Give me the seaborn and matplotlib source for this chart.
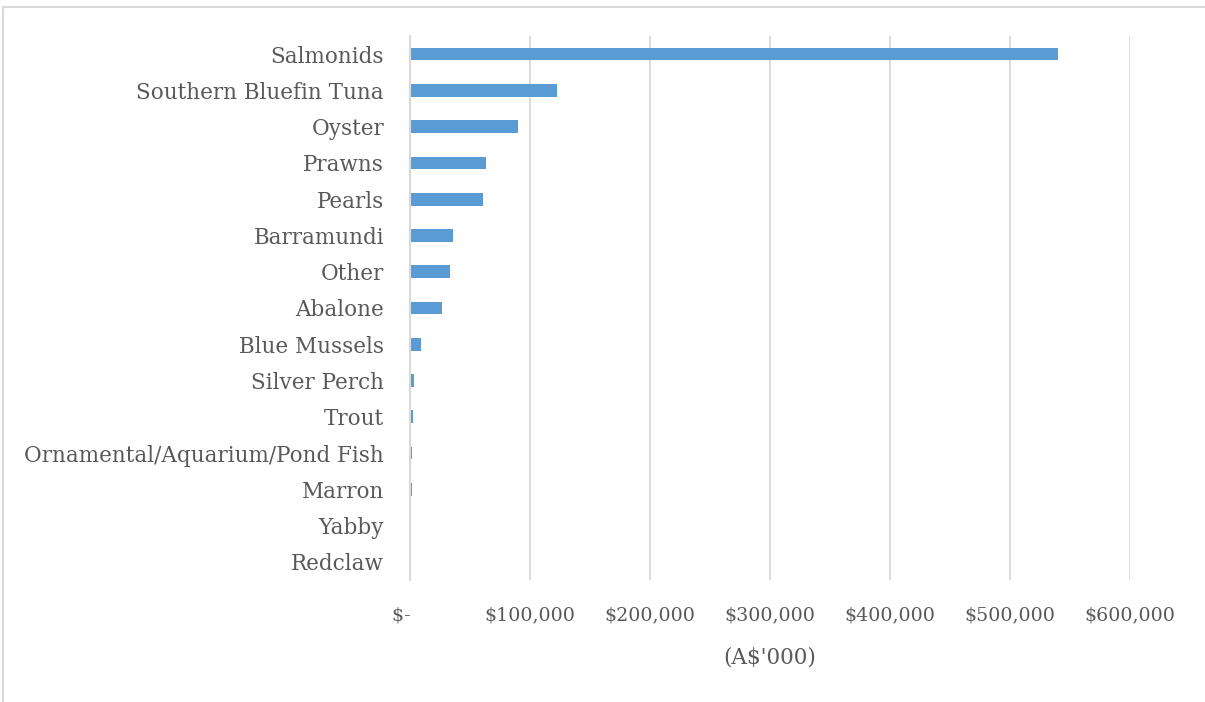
import matplotlib
matplotlib.use("Agg")
import matplotlib.pyplot as plt
from matplotlib.patches import Rectangle
from matplotlib.ticker import FuncFormatter
import seaborn as sns
import pandas as pd

# Gross value of aquaculture production by species (A$'000)
species = [
    "Salmonids", "Southern Bluefin Tuna", "Oyster", "Prawns", "Pearls",
    "Barramundi", "Other", "Abalone", "Blue Mussels", "Silver Perch",
    "Trout", "Ornamental/Aquarium/Pond Fish", "Marron", "Yabby", "Redclaw",
]
value = [
    540400, 122200, 90300, 63300, 60500,
    35500, 33600, 26400, 9200, 3600,
    2200, 1400, 1300, 800, 400,
]
x_ticks = [0, 100000, 200000, 300000, 400000, 500000, 600000]

df = pd.DataFrame({"species": species, "value": value})

sns.set_theme(style="white")
plt.rcParams["font.family"] = ["DejaVu Serif"]

W, H = 1205, 702
fig = plt.figure(figsize=(W / 100, H / 100), dpi=100)
ax = fig.add_axes([410 / W, 1 - 580 / H, 720 / W, 544 / H])

sns.barplot(data=df, x="value", y="species", orient="h", color="#5b9bd5",
            saturation=1, width=0.35, linewidth=0, ax=ax)

text_col = "#595959"
grid_col = "#d9d9d9"

ax.set_xlim(0, 600000)
ax.set_ylim(14.5, -0.5)
ax.set_xticks(x_ticks)
ax.xaxis.set_major_formatter(FuncFormatter(
    lambda v, p: "$-   " if v == 0 else f"${v:,.0f}"))
ax.grid(axis="x", color=grid_col, linewidth=1.3)
ax.set_axisbelow(True)
for s in ["top", "right", "bottom"]:
    ax.spines[s].set_visible(False)
ax.spines["left"].set_color(grid_col)
ax.spines["left"].set_linewidth(1.5)
ax.tick_params(axis="x", length=0, pad=19, labelsize=13.7, labelcolor=text_col)
ax.tick_params(axis="y", length=0, pad=18.7, labelsize=15.5, labelcolor=text_col)
ax.set_ylabel("")
ax.set_xlabel("(A$'000)", fontsize=15.5, color=text_col, labelpad=16)

# chart-area border
fig.patches.append(Rectangle((3 / W, -0.05), 1.2, (H - 7) / H + 0.05,
                             transform=fig.transFigure, fill=False,
                             edgecolor=grid_col, linewidth=1.5))

fig.savefig("out.png", dpi=100)
